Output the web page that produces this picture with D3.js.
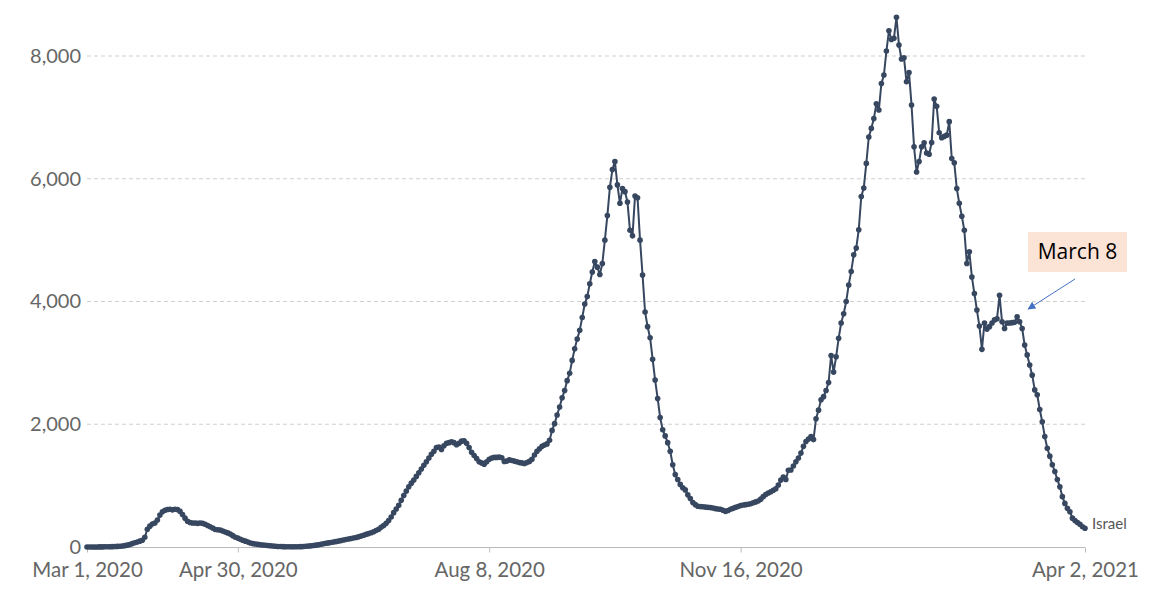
<!DOCTYPE html>
<html>
<head>
<meta charset="utf-8">
<script src="https://cdn.jsdelivr.net/npm/d3@7/dist/d3.min.js"></script>
<style>
  html, body { margin: 0; padding: 0; background: #fff; }
  svg { display: block; }
  text { font-family: Lato, "Open Sans", sans-serif; }
</style>
</head>
<body>
<svg id="chart" width="1168" height="604"></svg>
<script>
// ---- data ----
const startDate = "2020-03-01";
const seriesName = "Israel";
// daily values (7-day average of new cases), one per day from startDate
const values = [
  0,0,1,1,1,2,2,3,4,5,
  6,8,10,13,17,22,30,40,55,70,
  80,95,110,160,290,340,375,390,440,520,
  575,600,612,615,605,615,610,580,530,470,
  420,400,390,390,385,390,385,370,350,330,
  310,285,280,275,260,245,230,210,185,160,
  145,125,110,95,80,65,55,48,42,37,
  33,28,24,20,16,12,9,7,6,5,
  4,3,3,3,4,6,8,11,15,19,
  24,30,37,45,52,60,67,73,80,88,
  96,104,113,122,130,138,146,155,165,178,
  192,205,218,232,248,268,290,320,350,385,
  430,490,560,620,680,760,840,910,980,1040,
  1090,1150,1210,1270,1330,1390,1450,1510,1560,1620,
  1630,1590,1650,1690,1700,1715,1700,1665,1690,1725,
  1730,1690,1620,1545,1490,1440,1390,1370,1350,1390,
  1430,1450,1460,1460,1465,1455,1395,1400,1420,1410,
  1400,1390,1375,1370,1360,1375,1395,1430,1500,1560,
  1600,1640,1660,1680,1740,1900,2010,2150,2280,2430,
  2550,2710,2830,3040,3230,3390,3530,3740,3960,4080,
  4290,4480,4650,4560,4440,4620,5000,5400,5860,6150,
  6280,5900,5600,5840,5790,5620,5160,5070,5720,5690,
  5000,4430,3830,3590,3410,3060,2720,2420,2110,1910,
  1810,1700,1560,1340,1180,1100,1020,965,930,850,
  790,725,690,665,658,655,650,645,642,635,
  625,620,614,600,580,595,615,630,645,660,
  675,685,690,697,705,720,735,750,780,820,
  855,880,900,925,950,1010,1090,1140,1100,1250,
  1255,1320,1390,1450,1530,1640,1720,1760,1800,1750,
  2090,2230,2400,2450,2550,2680,3120,2850,3100,3400,
  3650,3800,4000,4270,4490,4760,4870,5170,5710,5850,
  6250,6680,6820,6980,7220,7120,7550,7690,8080,8410,
  8270,8290,8630,8180,7950,7970,7580,7730,7200,6520,
  6110,6280,6520,6585,6420,6400,6590,7300,7180,6750,
  6670,6690,6710,6930,6330,6260,5840,5600,5390,5160,
  4620,4810,4400,4130,3860,3600,3220,3650,3550,3590,
  3650,3700,3720,4100,3670,3560,3650,3650,3655,3660,
  3750,3670,3560,3290,3130,2965,2800,2560,2480,2240,
  2040,1800,1610,1480,1340,1230,1100,980,820,710,
  630,575,470,430,400,370,330,305
];
const yTicks = [0, 2000, 4000, 6000, 8000];
const xTickDates = ["2020-03-01", "2020-04-30", "2020-08-08", "2020-11-16", "2021-04-02"];
const annotationText = "March 8";
const annotationDate = "2021-03-08";

// ---- build ----
const parse = d3.utcParse("%Y-%m-%d");
const t0 = parse(startDate);
const data = values.map((v, i) => ({ date: d3.utcDay.offset(t0, i), value: v }));

const svg = d3.select("#chart");
const W = 1168, H = 604;
svg.append("rect").attr("width", W).attr("height", H).attr("fill", "#fff");

const x = d3.scaleUtc()
  .domain([parse(xTickDates[0]), parse(xTickDates[xTickDates.length - 1])])
  .range([87, 1085]);
const y = d3.scaleLinear().domain([0, 8000]).range([547, 56]);

// gridlines
svg.append("g")
  .selectAll("line")
  .data(yTicks.filter(d => d > 0))
  .join("line")
  .attr("x1", 87).attr("x2", 1085)
  .attr("y1", d => y(d)).attr("y2", d => y(d))
  .attr("stroke", "#cfcfcf")
  .attr("stroke-width", 1)
  .attr("stroke-dasharray", "4,3");

// y axis labels
const yAxis = d3.axisLeft(y).tickValues(yTicks).tickSize(0).tickPadding(0)
  .tickFormat(d3.format(","));
const gy = svg.append("g").attr("transform", "translate(81,0)").call(yAxis);
gy.select(".domain").remove();
gy.selectAll("text")
  .attr("fill", "#666")
  .style("font-size", "20px")
  .style("font-family", "Lato, 'Open Sans', sans-serif");

// x axis
const fmt = d3.utcFormat("%b %-d, %Y");
const xAxis = d3.axisBottom(x)
  .tickValues(xTickDates.map(parse))
  .tickSize(5).tickPadding(10)
  .tickFormat(fmt);
const gx = svg.append("g").attr("transform", "translate(0,547.5)").call(xAxis);
gx.select(".domain").attr("stroke", "#bbb").attr("d", "M87,0H1085");
gx.selectAll(".tick line").attr("stroke", "#bbb");
gx.selectAll("text")
  .attr("fill", "#666")
  .style("font-size", "20.5px")
  .style("font-family", "Lato, 'Open Sans', sans-serif");

// line
const lineColor = "#374760";
const line = d3.line().x(d => x(d.date)).y(d => y(d.value));
svg.append("path")
  .datum(data)
  .attr("fill", "none")
  .attr("stroke", lineColor)
  .attr("stroke-width", 2)
  .attr("stroke-linejoin", "round")
  .attr("d", line);

svg.append("g")
  .selectAll("circle")
  .data(data)
  .join("circle")
  .attr("cx", d => x(d.date))
  .attr("cy", d => y(d.value))
  .attr("r", 2.8)
  .attr("fill", lineColor);

// series label
const last = data[data.length - 1];
svg.append("text")
  .attr("x", x(last.date) + 7)
  .attr("y", y(last.value) - 3)
  .attr("dominant-baseline", "middle")
  .attr("fill", "#555")
  .style("font-size", "15px")
  .text(seriesName);

// annotation
const ad = parse(annotationDate);
const defs = svg.append("defs");
defs.append("marker")
  .attr("id", "arr")
  .attr("viewBox", "0 0 10 10")
  .attr("refX", 9).attr("refY", 5)
  .attr("markerWidth", 8).attr("markerHeight", 8)
  .attr("orient", "auto")
  .append("path")
  .attr("d", "M0,0 L10,5 L0,10 z")
  .attr("fill", "#4472c4");

const boxX = 1028, boxY = 232, boxW = 99, boxH = 40;
svg.append("rect")
  .attr("x", boxX).attr("y", boxY)
  .attr("width", boxW).attr("height", boxH)
  .attr("fill", "#fbe3d5");
svg.append("text")
  .attr("x", boxX + boxW / 2).attr("y", boxY + boxH / 2 + 1)
  .attr("text-anchor", "middle")
  .attr("dominant-baseline", "middle")
  .attr("fill", "#000")
  .style("font-size", "21px")
  .style("font-family", "'Open Sans', Lato, sans-serif")
  .text(annotationText);
svg.append("line")
  .attr("x1", 1075).attr("y1", 279)
  .attr("x2", x(ad) + 6).attr("y2", 309)
  .attr("stroke", "#4472c4")
  .attr("stroke-width", 1)
  .attr("marker-end", "url(#arr)");
</script>
</body>
</html>
